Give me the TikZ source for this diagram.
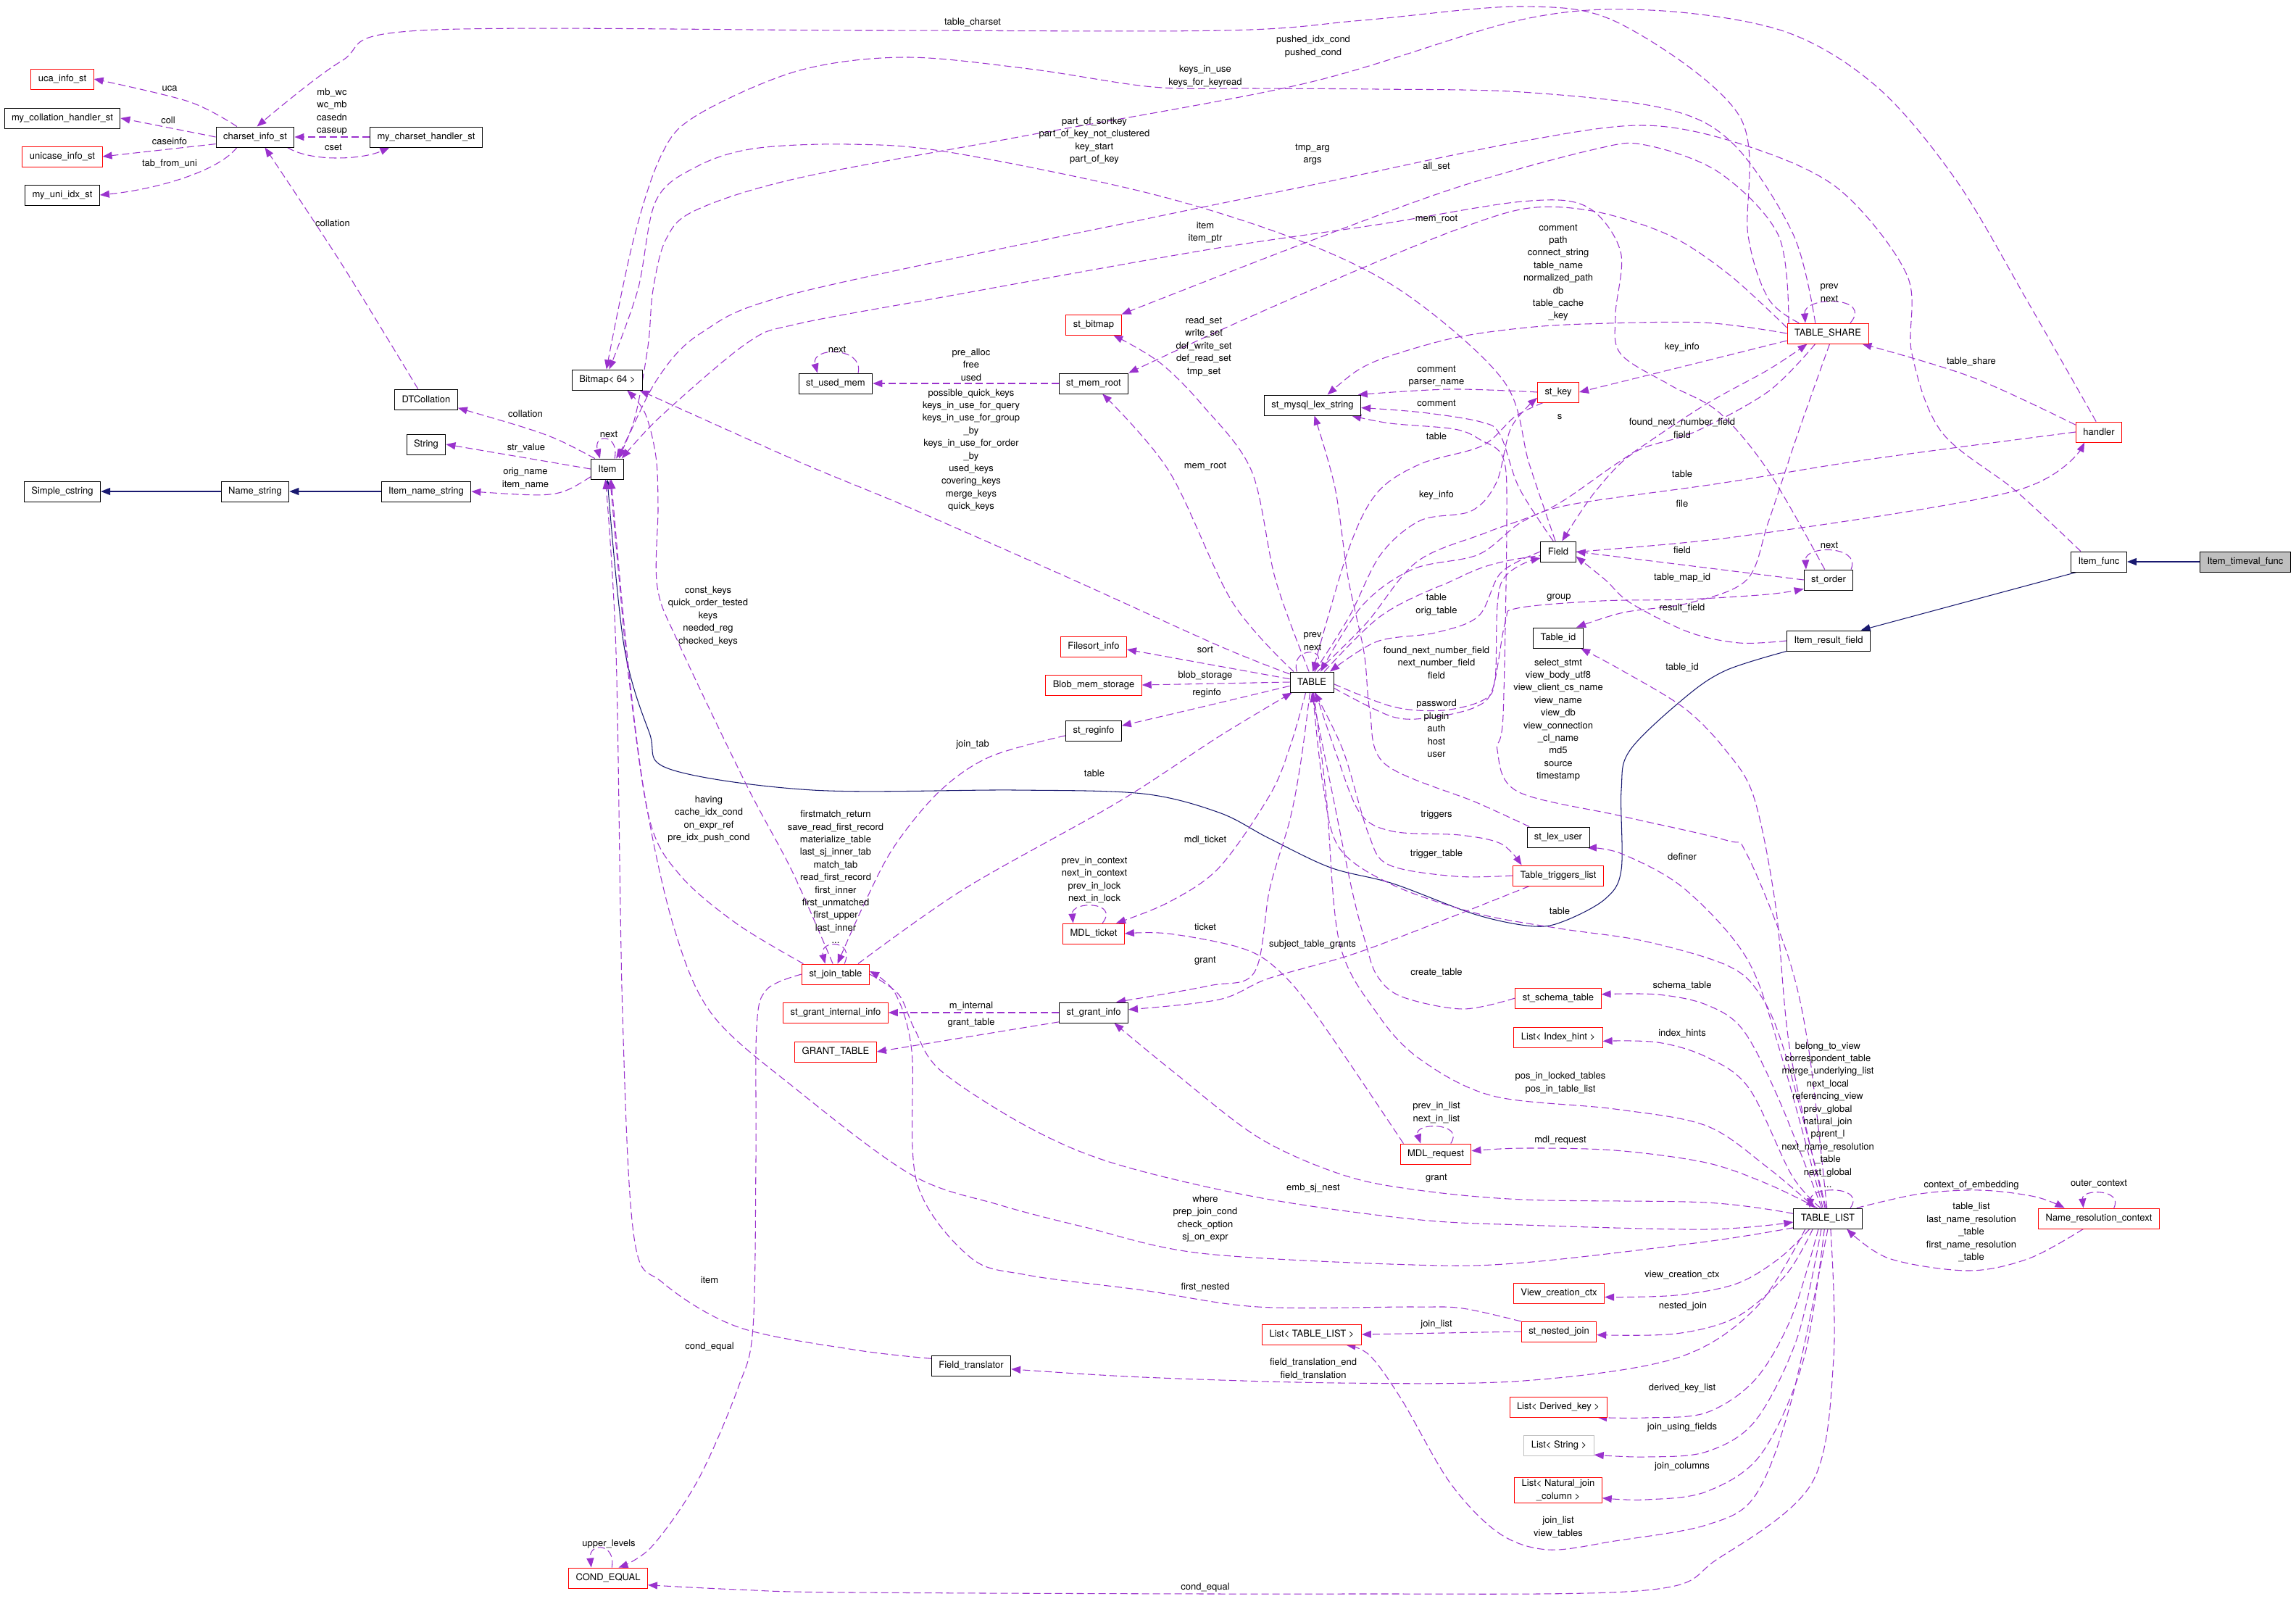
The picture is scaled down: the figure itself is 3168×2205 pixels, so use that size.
\documentclass[tikz,border=0pt]{standalone}
\usepackage{fontspec}
\setmainfont{TeX Gyre Heros}
\usetikzlibrary{arrows.meta}
\definecolor{dpurple}{RGB}{154,50,205}
\definecolor{navyb}{RGB}{25,25,112}
\definecolor{lgray}{RGB}{191,191,191}
\newcommand\nf{\fontsize{7.4}{9.9}\selectfont}
\pgfdeclarelayer{bg}
\pgfdeclarelayer{edges}
\pgfsetlayers{bg,edges,main}
\begin{document}
\begin{tikzpicture}[x=0.02cm,y=-0.02cm,
 cls/.style={draw=black, fill=white, line width=0.55pt, minimum height=0.56cm, inner xsep=0.2cm, inner ysep=0.05cm, font=\nf, align=center},
 clsr/.style={cls, draw=red},
 clsg/.style={cls, draw=lgray},
 uses/.style={draw=dpurple, line width=0.6pt, dash pattern=on 0.2cm off 0.1cm, -{Triangle[length=0.26cm,width=0.2cm]}},
 inh/.style={draw=navyb, line width=0.6pt, -{Triangle[length=0.26cm,width=0.2cm]}},
 lbl/.style={font=\nf, align=center, inner sep=0pt},
 smooth, tension=0.55]
\begin{pgfonlayer}{bg}\fill[white] (0,0) rectangle (3168,2205);\end{pgfonlayer}
\useasboundingbox (0,0) rectangle (3168,2205);
% ---------------- classes
\node[clsr] (uca) at (86,109) {uca\_info\_st};
\node[cls] (coll) at (86,163) {my\_collation\_handler\_st};
\node[clsr] (unicase) at (86,216) {unicase\_info\_st};
\node[cls] (uniidx) at (86,269) {my\_uni\_idx\_st};
\node[cls] (charset) at (352,189) {charset\_info\_st};
\node[cls] (mch) at (588,189) {my\_charset\_handler\_st};
\node[cls] (dtc) at (588,551) {DTCollation};
\node[cls] (string) at (588,613) {String};
\node[cls] (simple) at (86,678) {Simple\_cstring};
\node[cls] (namestr) at (352,678) {Name\_string};
\node[cls] (itemname) at (588,678) {Item\_name\_string};
\node[cls] (item) at (838,647) {Item};
\node[cls] (bitmap) at (838,524) {Bitmap< 64 >};
\node[clsr] (stbitmap) at (1509,448) {st\_bitmap};
\node[cls] (usedmem) at (1153,529) {st\_used\_mem};
\node[cls] (memroot) at (1509,529) {st\_mem\_root};
\node[cls] (lexstr) at (1811,559) {st\_mysql\_lex\_string};
\node[clsr] (stkey) at (2150,541) {st\_key};
\node[clsr] (tshare) at (2522,460) {TABLE\_SHARE};
\node[clsr] (handler) at (2896,596) {handler};
\node[cls] (field) at (2150,761) {Field};
\node[cls] (storder) at (2523,800) {st\_order};
\node[cls] (itemfunc) at (2896,775) {Item\_func};
\node[cls, fill=lgray] (timeval) at (3098,775) {Item\_timeval\_func};
\node[cls] (tableid) at (2150,880) {Table\_id};
\node[cls] (irf) at (2523,884) {Item\_result\_field};
\node[cls] (table) at (1810,941) {TABLE};
\node[clsr] (filesort) at (1509,892) {Filesort\_info};
\node[clsr] (blob) at (1509,945) {Blob\_mem\_storage};
\node[cls] (reginfo) at (1509,1008) {st\_reginfo};
\node[cls] (lexuser) at (2150,1155) {st\_lex\_user};
\node[clsr] (trig) at (2150,1208) {Table\_triggers\_list};
\node[clsr] (mdlticket) at (1509,1288) {MDL\_ticket};
\node[clsr] (jointab) at (1153,1344) {st\_join\_table};
\node[clsr] (gii) at (1153,1397) {st\_grant\_internal\_info};
\node[clsr] (granttab) at (1153,1451) {GRANT\_TABLE};
\node[cls] (grantinfo) at (1509,1397) {st\_grant\_info};
\node[clsr] (schema) at (2150,1377) {st\_schema\_table};
\node[clsr] (idxhint) at (2150,1431) {List< Index\_hint >};
\node[clsr] (mdlreq) at (1981,1592) {MDL\_request};
\node[cls] (tlist) at (2522,1681) {TABLE\_LIST};
\node[clsr] (nrc) at (2896,1681) {Name\_resolution\_context};
\node[clsr] (vcc) at (2151,1784) {View\_creation\_ctx};
\node[clsr] (listtl) at (1810,1841) {List< TABLE\_LIST >};
\node[clsr] (nested) at (2151,1837) {st\_nested\_join};
\node[cls] (ftrans) at (1340,1884) {Field\_translator};
\node[clsr] (derived) at (2150,1941) {List< Derived\_key >};
\node[clsg] (liststr) at (2151,1994) {List< String >};
\node[clsr] (natjoin) at (2150,2056) {List< Natural\_join\\\_column >};
\node[clsr] (condeq) at (839,2177) {COND\_EQUAL};
% ---------------- labels
\node[lbl] (l1) at (234,122) {uca};
\node[lbl] (l2) at (232,166) {coll};
\node[lbl] (l3) at (234,195) {caseinfo};
\node[lbl] (l4) at (234,226) {tab\_from\_uni};
\node[lbl] (l5) at (458,154) {mb\_wc\\wc\_mb\\casedn\\caseup};
\node[lbl] (l6) at (460,203) {cset};
\node[lbl] (l7) at (459,308) {collation};
\node[lbl] (l8) at (725,571) {collation};
\node[lbl] (l9) at (840,599) {next};
\node[lbl] (l10) at (726,618) {str\_value};
\node[lbl] (l11) at (725,660) {orig\_name\\item\_name};
\node[lbl] (l12) at (1342,31) {table\_charset};
\node[lbl] (l13) at (1812,64) {pushed\_idx\_cond\\pushed\_cond};
\node[lbl] (l14) at (1663,105) {keys\_in\_use\\keys\_for\_keyread};
\node[lbl] (l15) at (1510,194) {part\_of\_sortkey\\part\_of\_key\_not\_clustered\\key\_start\\part\_of\_key};
\node[lbl] (l16) at (1811,213) {tmp\_arg\\args};
\node[lbl] (l17) at (1982,230) {all\_set};
\node[lbl] (l18) at (1982,302) {mem\_root};
\node[lbl] (l19) at (1663,321) {item\\item\_ptr};
\node[lbl] (l20) at (2150,376) {comment\\path\\connect\_string\\table\_name\\normalized\_path\\db\\table\_cache\\\_key};
\node[lbl] (l21) at (1661,478) {read\_set\\write\_set\\def\_write\_set\\def\_read\_set\\tmp\_set};
\node[lbl] (l22) at (1155,482) {next};
\node[lbl] (l23) at (1340,503) {pre\_alloc\\free\\used};
\node[lbl] (l24) at (1340,621) {possible\_quick\_keys\\keys\_in\_use\_for\_query\\keys\_in\_use\_for\_group\\\_by\\keys\_in\_use\_for\_order\\\_by\\used\_keys\\covering\_keys\\merge\_keys\\quick\_keys};
\node[lbl] (l25) at (1663,643) {mem\_root};
\node[lbl] (l26) at (1982,519) {comment\\parser\_name};
\node[lbl] (l27) at (1982,556) {comment};
\node[lbl] (l28) at (2152,575) {s};
\node[lbl] (l29) at (1982,602) {table};
\node[lbl] (l30) at (1982,683) {key\_info};
\node[lbl] (l31) at (2524,404) {prev\\next};
\node[lbl] (l32) at (2321,479) {key\_info};
\node[lbl] (l33) at (2720,499) {table\_share};
\node[lbl] (l34) at (2321,591) {found\_next\_number\_field\\field};
\node[lbl] (l35) at (2321,654) {table};
\node[lbl] (l36) at (2321,695) {file};
\node[lbl] (l37) at (2321,759) {field};
\node[lbl] (l38) at (2524,752) {next};
\node[lbl] (l39) at (2321,797) {table\_map\_id};
\node[lbl] (l40) at (2151,824) {group};
\node[lbl] (l41) at (2321,839) {result\_field};
\node[lbl] (l42) at (977,850) {const\_keys\\quick\_order\_tested\\keys\\needed\_reg\\checked\_keys};
\node[lbl] (l43) at (1663,896) {sort};
\node[lbl] (l44) at (1663,932) {blob\_storage};
\node[lbl] (l45) at (1665,956) {reginfo};
\node[lbl] (l46) at (1342,1027) {join\_tab};
\node[lbl] (l47) at (1510,1067) {table};
\node[lbl] (l48) at (978,1130) {having\\cache\_idx\_cond\\on\_expr\_ref\\pre\_idx\_push\_cond};
\node[lbl] (l49) at (1153,1210) {firstmatch\_return\\save\_read\_first\_record\\materialize\_table\\last\_sj\_inner\_tab\\match\_tab\\read\_first\_record\\first\_inner\\first\_unmatched\\first\_upper\\last\_inner\\...};
\node[lbl] (l50) at (1663,1159) {mdl\_ticket};
\node[lbl] (l51) at (1510,1214) {prev\_in\_context\\next\_in\_context\\prev\_in\_lock\\next\_in\_lock};
\node[lbl] (l52) at (1663,1279) {ticket};
\node[lbl] (l53) at (1663,1326) {grant};
\node[lbl] (l54) at (1340,1388) {m\_internal};
\node[lbl] (l55) at (1340,1411) {grant\_table};
\node[lbl] (l56) at (1811,885) {prev\\next};
\node[lbl] (l57) at (1982,834) {table\\orig\_table};
\node[lbl] (l58) at (1982,914) {found\_next\_number\_field\\next\_number\_field\\field};
\node[lbl] (l59) at (1982,1005) {password\\plugin\\auth\\host\\user};
\node[lbl] (l60) at (2150,993) {select\_stmt\\view\_body\_utf8\\view\_client\_cs\_name\\view\_name\\view\_db\\view\_connection\\\_cl\_name\\md5\\source\\timestamp};
\node[lbl] (l61) at (2321,921) {table\_id};
\node[lbl] (l62) at (1982,1124) {triggers};
\node[lbl] (l63) at (1982,1178) {trigger\_table};
\node[lbl] (l64) at (2321,1182) {definer};
\node[lbl] (l65) at (2152,1257) {table};
\node[lbl] (l66) at (1811,1303) {subject\_table\_grants};
\node[lbl] (l67) at (1982,1342) {create\_table};
\node[lbl] (l68) at (2321,1360) {schema\_table};
\node[lbl] (l69) at (2321,1426) {index\_hints};
\node[lbl] (l70) at (2522,1538) {belong\_to\_view\\correspondent\_table\\merge\_underlying\_list\\next\_local\\referencing\_view\\prev\_global\\natural\_join\\parent\_l\\next\_name\_resolution\\\_table\\next\_global\\...};
\node[lbl] (l71) at (2153,1494) {pos\_in\_locked\_tables\\pos\_in\_table\_list};
\node[lbl] (l72) at (1982,1535) {prev\_in\_list\\next\_in\_list};
\node[lbl] (l73) at (2153,1573) {mdl\_request};
\node[lbl] (l74) at (1982,1626) {grant};
\node[lbl] (l75) at (2720,1635) {context\_of\_embedding};
\node[lbl] (l76) at (2896,1633) {outer\_context};
\node[lbl] (l77) at (2720,1700) {table\_list\\last\_name\_resolution\\\_table\\first\_name\_resolution\\\_table};
\node[lbl] (l78) at (2321,1759) {view\_creation\_ctx};
\node[lbl] (l79) at (2322,1802) {nested\_join};
\node[lbl] (l80) at (1982,1827) {join\_list};
\node[lbl] (l81) at (2321,1915) {derived\_key\_list};
\node[lbl] (l82) at (2321,1969) {join\_using\_fields};
\node[lbl] (l83) at (2321,2023) {join\_columns};
\node[lbl] (l84) at (2150,2107) {join\_list\\view\_tables};
\node[lbl] (l85) at (1812,1639) {emb\_sj\_nest};
\node[lbl] (l86) at (1663,1681) {where\\prep\_join\_cond\\check\_option\\sj\_on\_expr};
\node[lbl] (l87) at (979,1766) {item};
\node[lbl] (l88) at (1663,1776) {first\_nested};
\node[lbl] (l89) at (979,1858) {cond\_equal};
\node[lbl] (l90) at (1812,1889) {field\_translation\_end\\field\_translation};
\node[lbl] (l91) at (840,2130) {upper\_levels};
\node[lbl] (l92) at (1663,2190) {cond\_equal};
% ---------------- connectors
\begin{pgfonlayer}{edges}
% inheritance
\draw[inh] (namestr.west) -- (simple.east);
\draw[inh] (itemname.west) -- (namestr.east);
\draw[inh] (timeval.west) -- (itemfunc.east);
\draw[inh] (itemfunc.205) -- (irf.18);
\draw[inh] plot coordinates {(irf.south west) (2381,925) (2324,963) (2249,1035) (2237,1090) (2237,1200) (2215,1240) (2160,1270) (2117,1278) (2037,1262) (1922,1219) (1836,1197) (1750,1156) (1682,1121) (1577,1095) (1401,1090) (1121,1090) (924,1061) (896,1011) (861,891) (item.south)};
% charset
\draw[uses] plot coordinates {(charset.150) (260,140) (uca.east)};
\draw[uses] (charset.west) -- (coll.east);
\draw[uses] (charset.190) -- (unicase.east);
\draw[uses] (charset.210) .. controls (300,238) and (210,262) .. (uniidx.east);
\draw[uses] (mch.west) -- (charset.east);
\draw[uses] (charset.-18) .. controls (430,224) and (500,220) .. (mch.196);
\draw[uses] plot coordinates {(dtc.128) (470,362) (charset.-47)};
\draw[uses] plot coordinates {(tshare.160) (2440,412) (2412,325) (2400,160) (2236,33) (2100,9) (1880,28) (1690,42) (1200,42) (580,42) (470,85) (charset.80)};
% Item
\draw[uses] (item.140) .. controls (760,600) .. (dtc.-15);
\draw[uses] (item.west) -- (string.east);
\draw[uses] (item.205) .. controls (770,686) .. (itemname.east);
\draw[uses] (item.55) .. controls (855,598) and (818,598) .. (item.125);
\draw[uses] plot coordinates {(handler.105) (2800,420) (2700,250) (2590,120) (2461,43) (2277,14) (2100,27) (1801,115) (1400,190) (1100,246) (960,290) (919,330) (901,400) (894,478) (875,580) (item.50)};
\draw[uses] plot coordinates {(itemfunc.150) (2781,677) (2679,596) (2638,488) (2631,379) (2536,260) (2406,200) (2270,173) (2100,195) (1811,255) (1591,300) (1100,404) (968,459) (905,526) (item.42)};
\draw[uses] plot coordinates {(storder.110) (2440,650) (2372,569) (2304,531) (2236,488) (2229,434) (2236,347) (2189,285) (2100,278) (1900,310) (1663,345) (1300,410) (1100,447) (1031,473) (912,574) (item.36)};
\draw[uses] plot coordinates {(jointab.162) (1016,1274) (938,1207) (896,1130) (868,939) (854,796) (item.-75)};
\draw[uses] plot coordinates {(tlist.195) (2354,1713) (2102,1742) (1950,1745) (1657,1729) (1497,1693) (1378,1662) (1258,1621) (1099,1503) (983,1400) (930,1280) (890,1100) (865,900) (item.-70)};
\draw[uses] plot coordinates {(ftrans.170) (1178,1862) (1019,1831) (915,1770) (875,1708) (859,1400) (850,900) (item.-100)};
% Bitmap
\draw[uses] plot coordinates {(tshare.140) (2475,325) (2393,200) (2298,150) (2100,127) (1900,123) (1731,122) (1591,120) (1420,95) (1247,79) (1100,98) (960,160) (912,215) (873,335) (bitmap.95)};
\draw[uses] plot coordinates {(field.105) (2110,640) (2075,526) (1942,407) (1801,335) (1591,268) (1310,210) (1170,199) (1040,205) (961,230) (905,277) (880,400) (bitmap.80)};
\draw[uses] plot coordinates {(table.160) (1682,891) (1472,796) (1254,700) (1100,636) (bitmap.-18)};
\draw[uses] plot coordinates {(jointab.105) (1093,1202) (1030,1083) (938,891) (907,810) (908,700) (905,630) (890,570) (bitmap.-28)};
% st_bitmap / st_mem_root
\draw[uses] plot coordinates {(tshare.165) (2454,325) (2372,238) (2270,200) (2200,206) (2012,258) (1801,335) (stbitmap.north east)};
\draw[uses] plot coordinates {(tshare.172) (2386,379) (2304,325) (2202,292) (2110,287) (2012,316) (1872,373) (1696,450) (memroot.north east)};
\draw[uses] (memroot.west) -- (usedmem.east);
\draw[uses] (usedmem.25) .. controls (1192,478) and (1118,478) .. (usedmem.150);
\draw[uses] plot coordinates {(table.105) (1760,800) (1727,650) (1660,560) (1600,500) (stbitmap.-28)};
\draw[uses] plot coordinates {(table.150) (1700,830) (1613,650) (memroot.-50)};
% st_mysql_lex_string
\draw[uses] plot coordinates {(tshare.west) (2350,445) (2186,447) (2096,453) (2007,466) (1918,491) (1873,511) (lexstr.35)};
\draw[uses] plot coordinates {(stkey.west) (2000,537) (lexstr.13)};
\draw[uses] plot coordinates {(field.115) (2096,673) (2070,600) (2043,582) (1962,569) (lexstr.-3)};
\draw[uses] plot coordinates {(lexuser.160) (2037,1107) (1911,1054) (1890,980) (1882,900) (1860,797) (1842,673) (lexstr.-80)};
\draw[uses] plot coordinates {(tlist.95) (2496,1450) (2468,1322) (2410,1178) (2381,1159) (2238,1126) (2094,1092) (2066,1035) (2074,987) (2079,715) (2074,632) (2043,607) (2007,592) (1918,584) (lexstr.-15)};
% TABLE top
\draw[uses] plot coordinates {(stkey.215) (2090,575) (2045,615) (1960,640) (1900,680) (1860,760) (table.85)};
\draw[uses] plot coordinates {(table.75) (1862,850) (1905,765) (1960,718) (2030,705) (2065,665) (2085,590) (stkey.195)};
\draw[uses] plot coordinates {(table.62) (1885,860) (1955,775) (2050,735) (2141,700) (2230,640) (2350,560) (2440,510) (tshare.207)};
\draw[uses] plot coordinates {(handler.west) (2577,634) (2372,667) (2168,696) (2100,720) (2040,765) (1950,785) (1880,835) (table.50)};
\draw[uses] plot coordinates {(table.40) (1905,850) (1995,805) (2100,770) (2400,740) (2781,677) (handler.216)};
\draw[uses] plot coordinates {(field.west) (2071,790) (2040,850) (1980,873) (1900,885) (table.30)};
\draw[uses] (table.145) .. controls (1780,893) and (1830,893) .. (table.85);
% TABLE_SHARE
\draw[uses] plot coordinates {(tshare.190) (2325,505) (stkey.east)};
\draw[uses] plot coordinates {(tshare.220) (2440,540) (2338,596) (2257,623) (2202,677) (field.70)};
\draw[uses] plot coordinates {(tshare.-80) (2480,600) (2440,720) (2410,800) (2330,832) (2240,845) (tableid.30)};
\draw[uses] (tshare.25) .. controls (2585,408) and (2488,408) .. (tshare.155);
\draw[uses] plot coordinates {(handler.163) (2720,520) (tshare.-17)};
% Field / st_order
\draw[uses] (storder.west) -- (field.east);
\draw[uses] (storder.25) .. controls (2568,752) and (2490,752) .. (storder.155);
\draw[uses] plot coordinates {(irf.west) (2400,887) (2330,872) (2250,832) (2215,800) (field.-15)};
\draw[uses] plot coordinates {(table.-15) (1922,989) (1980,989) (2037,975) (2060,949) (2077,858) (2094,839) (2209,829) (2324,827) (2439,820) (storder.200)};
\draw[uses] plot coordinates {(table.-5) (1922,975) (1991,980) (2048,965) (2063,935) (2071,805) (field.200)};
% TABLE left
\draw[uses] (table.172) -- (filesort.-5);
\draw[uses] (table.west) -- (blob.east);
\draw[uses] (table.190) .. controls (1660,975) .. (reginfo.10);
\draw[uses] plot coordinates {(reginfo.190) (1366,1044) (1296,1092) (1233,1169) (1191,1250) (jointab.80)};
% st_join_table
\draw[uses] (jointab.50) .. controls (1180,1296) and (1130,1296) .. (jointab.135);
\draw[uses] plot coordinates {(jointab.25) (1331,1226) (1542,1107) (1682,1016) (table.-152)};
\draw[uses] plot coordinates {(jointab.west) (1058,1365) (1044,1417) (1043,1600) (1039,1831) (1019,1913) (963,2042) (899,2134) (condeq.45)};
\draw[uses] (condeq.70) .. controls (850,2128) and (812,2128) .. (condeq.148);
\draw[uses] plot coordinates {(tlist.-75) (2530,1874) (2500,2046) (2371,2150) (2270,2194) (1850,2199) (1178,2197) (1019,2193) (condeq.-10)};
% TABLE_LIST
\draw[uses] (tlist.25) .. controls (2575,1636) and (2500,1636) .. (tlist.150);
\draw[uses] plot coordinates {(tlist.20) (2649,1647) (2733,1642) (2808,1651) (nrc.163)};
\draw[uses] (nrc.35) .. controls (2930,1640) and (2872,1640) .. (nrc.146);
\draw[uses] plot coordinates {(nrc.-146) (2800,1736) (2716,1753) (2606,1736) (tlist.-29)};
\draw[uses] plot coordinates {(tlist.115) (2456,1450) (2410,1322) (2324,1226) (2238,1178) (lexuser.-20)};
\draw[uses] plot coordinates {(tlist.105) (2470,1450) (2450,1250) (2420,1100) (2381,1035) (2324,977) (2238,925) (tableid.-25)};
\draw[uses] plot coordinates {(tlist.120) (2455,1518) (2405,1421) (2354,1386) (2287,1372) (schema.5)};
\draw[uses] plot coordinates {(tlist.125) (2472,1621) (2413,1501) (2354,1458) (2287,1438) (idxhint.-5)};
\draw[uses] plot coordinates {(table.-80) (1830,1100) (1848,1300) (1900,1398) (1959,1461) (2060,1512) (2228,1530) (2354,1553) (2438,1610) (tlist.140)};
\draw[uses] plot coordinates {(tlist.135) (2438,1633) (2354,1604) (2228,1587) (2102,1584) (mdlreq.5)};
\draw[uses] (mdlreq.35) .. controls (2022,1548) and (1950,1548) .. (mdlreq.145);
\draw[uses] plot coordinates {(tlist.172) (2354,1659) (2102,1655) (1950,1641) (1850,1620) (1736,1569) (1617,1477) (grantinfo.-27)};
\draw[uses] plot coordinates {(jointab.east) (1240,1372) (1262,1420) (1298,1477) (1417,1554) (1537,1605) (1736,1652) (1950,1682) (2102,1690) (2354,1696) (tlist.186)};
\draw[uses] plot coordinates {(tlist.-155) (2422,1805) (2312,1874) (2102,1905) (1850,1908) (1577,1900) (ftrans.-5)};
\draw[uses] plot coordinates {(tlist.-150) (2455,1736) (2396,1771) (2312,1787) (vcc.-5)};
\draw[uses] plot coordinates {(tlist.-145) (2464,1759) (2396,1817) (2312,1840) (nested.-5)};
\draw[uses] (nested.west) -- (listtl.east);
\draw[uses] plot coordinates {(nested.165) (2018,1805) (1950,1803) (1736,1803) (1577,1780) (1417,1759) (1338,1734) (1265,1631) (1258,1450) (1235,1370) (jointab.5)};
\draw[uses] plot coordinates {(tlist.-132) (2472,1817) (2422,1903) (2354,1949) (2270,1956) (derived.-15)};
\draw[uses] plot coordinates {(tlist.-122) (2480,1845) (2422,1960) (2354,2003) (2270,2010) (liststr.-15)};
\draw[uses] plot coordinates {(tlist.-108) (2489,1874) (2430,2006) (2354,2058) (2270,2069) (natjoin.-10)};
\draw[uses] plot coordinates {(tlist.-90) (2472,1931) (2422,2063) (2354,2104) (2228,2126) (2136,2138) (2068,2115) (2001,2046) (1934,1931) (1890,1870) (listtl.-17)};
% TABLE bottom
\draw[uses] plot coordinates {(tlist.100) (2462,1450) (2427,1370) (2381,1331) (2267,1298) (2152,1281) (2037,1260) (1922,1221) (1848,1170) (1825,1080) (table.-85)};
\draw[uses] plot coordinates {(trig.west) (2008,1209) (1916,1193) (1888,1150) (1853,1035) (table.-75)};
\draw[uses] plot coordinates {(table.-70) (1842,1035) (1876,1121) (1922,1147) (2014,1152) (2071,1164) (trig.164)};
\draw[uses] plot coordinates {(trig.-160) (1980,1274) (1865,1317) (1750,1350) (1682,1379) (grantinfo.5)};
\draw[uses] plot coordinates {(table.-100) (1795,1050) (1780,1130) (1752,1226) (1731,1341) (1668,1360) (grantinfo.25)};
\draw[uses] plot coordinates {(table.-120) (1780,1030) (1752,1097) (1682,1197) (1612,1245) (mdlticket.25)};
\draw[uses] (mdlticket.50) .. controls (1545,1243) and (1478,1243) .. (mdlticket.153);
\draw[uses] plot coordinates {(mdlreq.162) (1816,1400) (1760,1335) (1710,1307) (1612,1288) (mdlticket.east)};
\draw[uses] (grantinfo.west) -- (gii.east);
\draw[uses] plot coordinates {(grantinfo.195) (1338,1430) (granttab.east)};
\draw[uses] plot coordinates {(schema.west) (2018,1392) (1934,1375) (1900,1346) (1884,1300) (1865,1226) (1836,1083) (table.-90)};
\end{pgfonlayer}
\end{tikzpicture}
\end{document}
